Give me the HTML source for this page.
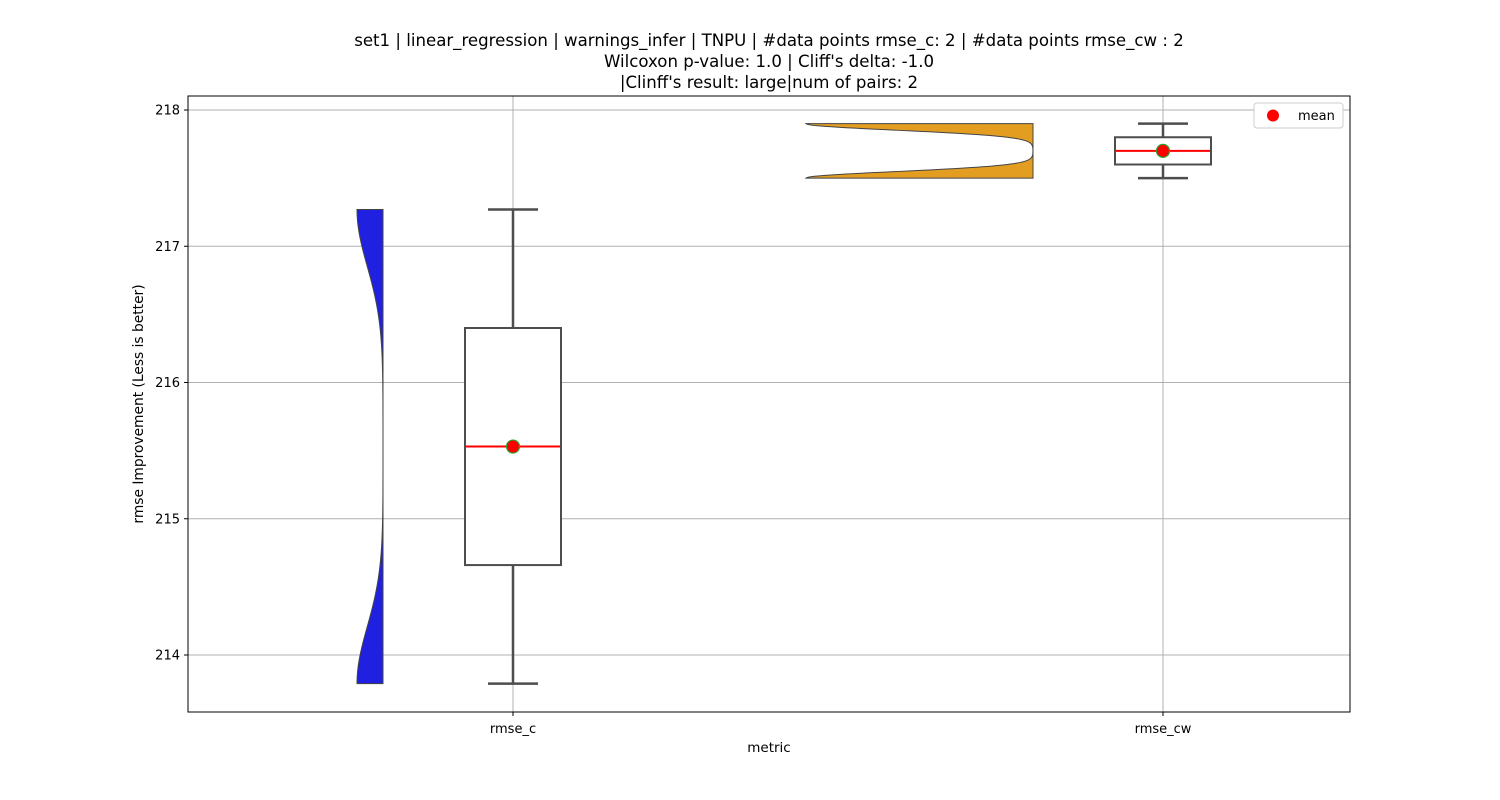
<!DOCTYPE html>
<html><head><meta charset="utf-8">
<style>
body{margin:0;background:#fff;}
svg{display:block;font-family:"DejaVu Sans","Liberation Sans",sans-serif;}
</style></head>
<body>
<svg id="chart" width="1500" height="800" xmlns="http://www.w3.org/2000/svg">
<rect width="1500" height="800" fill="#fff"/>
<g font-size="16.6" text-anchor="middle" fill="#000">
<text x="769" y="46">set1 | linear_regression | warnings_infer | TNPU | #data points rmse_c: 2 | #data points rmse_cw : 2</text>
<text x="769" y="67">Wilcoxon p-value: 1.0 | Cliff's delta: -1.0</text>
<text x="769" y="88">|Clinff's result: large|num of pairs: 2</text>
</g>
<g id="grid"></g>
<g id="marks"></g>
<rect x="188" y="96" width="1162" height="616" fill="none" stroke="#000" stroke-width="1"/>
<g id="axes" font-size="13" fill="#000"></g>
<text x="769" y="752" font-size="13.5" text-anchor="middle">metric</text>
<text transform="translate(143,404) rotate(-90)" font-size="13.8" text-anchor="middle">rmse Improvement (Less is better)</text>
<g>
<rect x="1254" y="103" width="89" height="25" rx="3" fill="#fff" stroke="#ccc"/>
<circle cx="1273" cy="115.5" r="6" fill="red"/>
<text x="1298" y="120" font-size="13">mean</text>
</g>
</svg>
<script>
const categories = ["rmse_c", "rmse_cw"];
const valuesC = [213.79, 217.27];
const valuesCW = [217.5, 217.9];
const yTicks = [214, 215, 216, 217, 218];
const violinColors = ["#2020e0", "#e39e22"];

const NS = "http://www.w3.org/2000/svg";
const yScale = v => 110 + (218 - v) * 136.25;
const xScale = i => 513 + i * 650;
function mk(tag, attrs, parent){const e=document.createElementNS(NS,tag);for(const k in attrs)e.setAttribute(k,attrs[k]);parent.appendChild(e);return e;}
const grid=document.getElementById('grid'), marks=document.getElementById('marks'), axes=document.getElementById('axes');

yTicks.forEach(t=>{
  const y=yScale(t);
  const g=mk('line',{x1:188,x2:1350,y1:y,y2:y,stroke:'#b0b0b0','stroke-width':1},grid);
  
  
  mk('line',{x1:184,x2:188,y1:y,y2:y,stroke:'#000'},axes);
  const tx=mk('text',{x:180,y:y+4.5,'text-anchor':'end'},axes);tx.textContent=t;
  
  
});
categories.forEach((c,i)=>{
  const x=xScale(i);
  const g=mk('line',{x1:x,x2:x,y1:96,y2:712,stroke:'#b0b0b0','stroke-width':1},grid);
  
  
  mk('line',{x1:x,x2:x,y1:712,y2:716,stroke:'#000'},axes);
  const tx=mk('text',{x:x,y:733,'text-anchor':'middle'},axes);tx.textContent=c;
  
  
});

const series=[valuesC, valuesCW];
const violinMax=[26, 227];
series.forEach((vals,i)=>{
  const cx=xScale(i);
  const lo=Math.min(...vals), hi=Math.max(...vals), d=hi-lo, h=d*0.12;
  const edge=cx-130;
  const N=120, dens=[];
  for(let k=0;k<=N;k++){const v=lo+d*k/N;let s=0;vals.forEach(p=>s+=Math.exp(-((v-p)**2)/(2*h*h)));dens.push([v,s]);}
  const mx=Math.max(...dens.map(p=>p[1]));
  let p=`M${edge},${yScale(lo)}`;
  dens.forEach(([v,s])=>{p+=` L${edge-violinMax[i]*s/mx},${yScale(v)}`;});
  p+=` L${edge},${yScale(hi)} Z`;
  const vi=mk('path',{d:p,fill:violinColors[i],stroke:'#444','stroke-width':1},marks);
  
  
  const s=[...vals].sort((a,b)=>a-b);
  const q=f=>s[0]+(s[s.length-1]-s[0])*f;
  const q1=q(0.25), q3=q(0.75), med=q(0.5), mean=vals.reduce((a,b)=>a+b,0)/vals.length;
  const col='#4d4d4d';
  [[lo,q1],[q3,hi]].forEach(([a,b])=>{
    const w=mk('line',{x1:cx,x2:cx,y1:yScale(a),y2:yScale(b),stroke:col,'stroke-width':2.5},marks);
    
    
  });
  [lo,hi].forEach(v=>{
    const cp=mk('line',{x1:cx-25,x2:cx+25,y1:yScale(v),y2:yScale(v),stroke:col,'stroke-width':2.5},marks);
    
    
  });
  const b=mk('rect',{x:cx-48,y:yScale(q3),width:96,height:yScale(q1)-yScale(q3),fill:'#fff',stroke:col,'stroke-width':2},marks);
  
  
  const m=mk('line',{x1:cx-47,x2:cx+47,y1:yScale(med),y2:yScale(med),stroke:'red','stroke-width':2},marks);
  
  
  const mc=mk('circle',{cx:cx,cy:yScale(mean),r:6.5,fill:'red',stroke:'#2ca02c','stroke-width':1.2},marks);
  
  
});
</script>
</body></html>
